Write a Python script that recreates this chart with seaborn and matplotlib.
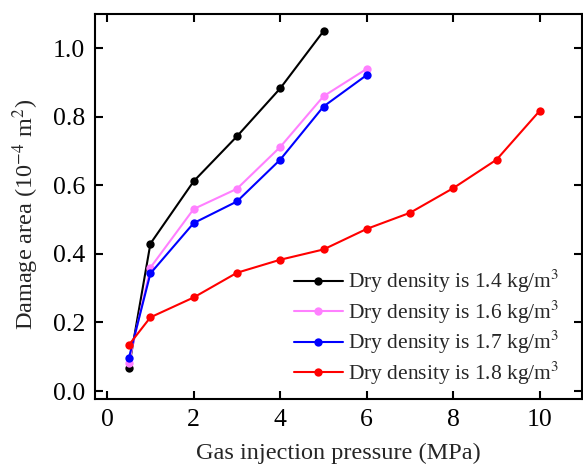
import matplotlib
matplotlib.use("Agg")
import matplotlib.pyplot as plt
import seaborn as sns
import pandas as pd

# Gas injection pressure (MPa) and damage area (1e-4 m^2) for each dry density
x_14 = [0.5, 1, 2, 3, 4, 5]
y_14 = [0.067, 0.43, 0.612, 0.743, 0.883, 1.05]

x_16 = [0.5, 1, 2, 3, 4, 5, 6]
y_16 = [0.082, 0.36, 0.531, 0.59, 0.712, 0.86, 0.94]

x_17 = [0.5, 1, 2, 3, 4, 5, 6]
y_17 = [0.095, 0.343, 0.49, 0.553, 0.675, 0.83, 0.922]

x_18 = [0.5, 1, 2, 3, 4, 5, 6, 7, 8, 9, 10]
y_18 = [0.134, 0.215, 0.273, 0.345, 0.383, 0.413, 0.473, 0.52, 0.592, 0.675, 0.818]

labels = ["Dry density is 1.4 kg/m$^3$", "Dry density is 1.6 kg/m$^3$",
          "Dry density is 1.7 kg/m$^3$", "Dry density is 1.8 kg/m$^3$"]
colors = ["black", "#ff80ff", "blue", "red"]

xticks = [0, 2, 4, 6, 8, 10]
yticks = [0.0, 0.2, 0.4, 0.6, 0.8, 1.0]
ytick_labels = ["0.0", "0.2", "0.4", "0.6", "0.8", "1.0"]

frames = []
for xs, ys, lab in zip([x_14, x_16, x_17, x_18], [y_14, y_16, y_17, y_18], labels):
    frames.append(pd.DataFrame({"pressure": xs, "area": ys, "series": lab}))
df = pd.concat(frames, ignore_index=True)

sns.set_theme(style="ticks")
plt.rcParams["font.family"] = ["Liberation Serif", "DejaVu Serif"]
plt.rcParams["mathtext.fontset"] = "stix"

fig, ax = plt.subplots(figsize=(5.83, 4.66), dpi=100)
fig.subplots_adjust(left=0.163, right=0.998, top=0.97, bottom=0.144)

sns.lineplot(data=df, x="pressure", y="area", hue="series", hue_order=labels,
             palette=colors, marker="o", markersize=6, markeredgewidth=0,
             linewidth=1.5, ax=ax, sort=False)

ax.set_xlim(-0.28, 10.97)
ax.set_ylim(-0.023, 1.1)
ax.set_xticks(xticks)
ax.set_yticks(yticks)
ax.set_yticklabels(ytick_labels)
ax.tick_params(direction="in", length=6, width=1.5, labelsize=18.5, pad=7,
               top=True, right=True, colors="black")
for sp in ax.spines.values():
    sp.set_linewidth(1.5)
    sp.set_color("black")

ax.set_xlabel("Gas injection pressure (MPa)", fontsize=17.5, labelpad=9)
ax.set_ylabel("Damage area (10$^{-4}$ m$^2$)", fontsize=17.5)
ax.yaxis.set_label_coords(-0.111, 0.478)

ax.legend(loc="lower right", frameon=False, fontsize=15.5, handlelength=2.3,
          handletextpad=0.25, labelspacing=0.15, borderaxespad=0.4,
          bbox_to_anchor=(0.990, -0.013))

fig.savefig("out.png", dpi=100)
